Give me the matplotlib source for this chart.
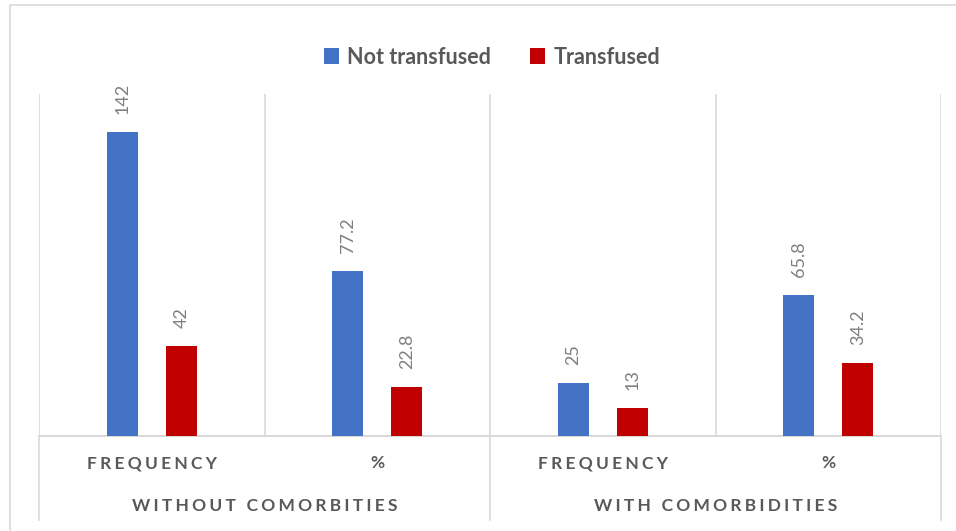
import numpy as np
import matplotlib.pyplot as plt
from matplotlib.patches import Rectangle
from matplotlib.lines import Line2D
import matplotlib.transforms as mtransforms

# ------------------------------------------
# Data
# ------------------------------------------
groups = ["WITHOUT COMORBITIES", "WITH COMORBIDITIES"]
measures = ["FREQUENCY", "%"]
series_names = ["Not transfused", "Transfused"]
not_transfused = [142, 77.2, 25, 65.8]
transfused = [42, 22.8, 13, 34.2]
value_labels_nt = ["142", "77.2", "25", "65.8"]
value_labels_t = ["42", "22.8", "13", "34.2"]

BLUE = "#4472C4"
RED = "#C00000"
GRID = "#d9d9d9"
TEXT = "#595959"

plt.rcParams['font.family'] = ['Lato', 'DejaVu Sans']

fig = plt.figure(figsize=(9.56, 5.31), dpi=100)
ax = fig.add_axes([39 / 956, 1 - 436 / 531, (941 - 39) / 956, (436 - 94) / 531])

# outer chart frame (left and top edges visible)
fig.patches.append(Rectangle((9.5 / 956, -0.1), 1.2, 1 - 4.5 / 531 + 0.1,
                             transform=fig.transFigure, fill=False,
                             edgecolor=GRID, linewidth=1.2, zorder=0))

x = np.arange(len(not_transfused))
width = 0.138
offset = 0.131

bars_nt = ax.bar(x - offset, not_transfused, width, color=BLUE, label=series_names[0], zorder=3)
bars_t = ax.bar(x + offset, transfused, width, color=RED, label=series_names[1], zorder=3)

# rotated value labels above each bar
for bars, labels in [(bars_nt, value_labels_nt), (bars_t, value_labels_t)]:
    for b, lab in zip(bars, labels):
        ax.annotate(lab, (b.get_x() + b.get_width() / 2, b.get_height()),
                    xytext=(0, 13), textcoords="offset points",
                    rotation=90, ha="center", va="bottom",
                    fontsize=13, color="#7f7f7f")

ax.set_xlim(-0.5, len(x) - 0.5)
ax.set_ylim(0, 160)

for side in ["top", "right", "left"]:
    ax.spines[side].set_visible(False)
ax.spines["bottom"].set_color(GRID)
ax.spines["bottom"].set_linewidth(1.5)
ax.set_yticks([])
ax.set_xticks([])

# category separators inside the plot
for b in np.arange(-0.5, len(x), 1.0):
    ax.axvline(b, color=GRID, linewidth=1.2, zorder=1)

# separators in the label area for the outer groups
trans = mtransforms.blended_transform_factory(ax.transData, ax.transAxes)
for b in [-0.5, 1.5, 3.5]:
    ax.add_line(Line2D([b, b], [-0.005, -0.246], transform=trans,
                       color=GRID, linewidth=1.2, clip_on=False))

def spaced(s):
    # letter-spaced caps for the category axis
    return "\u2009\u200a".join(s)

for i in x:
    ax.text(i, -0.08, spaced(measures[i % 2]), transform=trans,
            ha="center", va="center", fontsize=12.5, fontweight="bold", color=TEXT)
for g, name in enumerate(groups):
    ax.text(2 * g + 0.5, -0.205, spaced(name), transform=trans,
            ha="center", va="center", fontsize=12.5, fontweight="bold", color=TEXT)

fig.legend(loc="center", bbox_to_anchor=(492 / 956, 1 - 57 / 531), ncol=2,
           frameon=False, handlelength=0.7, handleheight=0.7, handletextpad=0.4,
           columnspacing=1.8, prop={"weight": "bold", "size": 15.5},
           labelcolor=TEXT)

plt.savefig("out.png", dpi=100)
